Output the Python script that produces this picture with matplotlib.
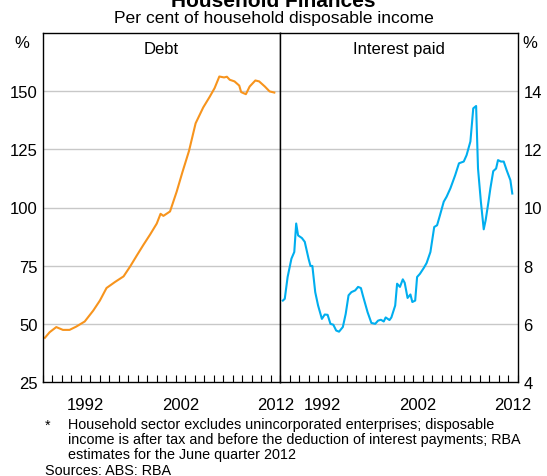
import numpy as np
import matplotlib
matplotlib.use("Agg")
import matplotlib.pyplot as plt
from matplotlib.ticker import MultipleLocator, FixedLocator

plt.rcParams['font.family'] = ['Liberation Sans', 'DejaVu Sans']

# debt, per cent of household disposable income
debt_year = [1988.2, 1988.7, 1989.4, 1990.1, 1990.8, 1991.5, 1992.4, 1993.3, 1994.0, 1994.7,
             1995.6, 1996.5, 1997.2, 1997.9, 1998.6, 1999.3, 2000.0, 2000.4, 2000.7, 2001.4,
             2002.1, 2002.7, 2003.4, 2004.1, 2004.9, 2005.6, 2006.1, 2006.6, 2007.1, 2007.4,
             2007.7, 2008.2, 2008.7, 2008.9, 2009.4, 2009.8, 2010.4, 2010.8, 2011.4, 2011.9,
             2012.4]
debt = [44.0, 46.4, 48.6, 47.4, 47.4, 48.8, 51.0, 55.7, 60.0, 65.4,
        68.0, 70.4, 74.7, 79.4, 84.0, 88.4, 93.1, 97.3, 96.4, 98.3,
        106.8, 115.1, 124.3, 136.2, 143.0, 147.7, 151.3, 156.3, 155.9, 156.2,
        154.9, 154.2, 152.4, 149.6, 148.7, 152.0, 154.6, 154.2, 152.0, 149.9,
        149.4]

# interest paid
int_year = [1988.3, 1988.5, 1988.8, 1989.2, 1989.5, 1989.7, 1989.9, 1990.3, 1990.6, 1991.0,
            1991.2, 1991.4, 1991.7, 1992.0, 1992.4, 1992.7, 1993.0, 1993.3, 1993.6, 1993.9,
            1994.2, 1994.6, 1994.9, 1995.2, 1995.5, 1995.9, 1996.2, 1996.5, 1996.7, 1997.2,
            1997.6, 1998.0, 1998.3, 1998.6, 1998.9, 1999.1, 1999.5, 1999.7, 2000.1, 2000.3,
            2000.6, 2000.9, 2001.1, 2001.4, 2001.7, 2001.9, 2002.2, 2002.4, 2002.7, 2003.1,
            2003.4, 2003.8, 2004.2, 2004.5, 2004.8, 2005.2, 2005.5, 2005.9, 2006.4, 2006.8,
            2007.3, 2007.6, 2008.0, 2008.3, 2008.6, 2008.8, 2009.1, 2009.4, 2009.6, 2009.9,
            2010.1, 2010.4, 2010.7, 2010.9, 2011.2, 2011.5, 2011.8, 2012.2, 2012.4]
interest = [6.80, 6.86, 7.61, 8.24, 8.47, 9.45, 9.04, 8.95, 8.82, 8.24,
            7.99, 7.99, 7.09, 6.63, 6.17, 6.32, 6.31, 6.00, 5.97, 5.77,
            5.73, 5.89, 6.34, 6.98, 7.09, 7.15, 7.27, 7.23, 6.98, 6.40,
            6.03, 6.00, 6.11, 6.14, 6.08, 6.22, 6.13, 6.22, 6.63, 7.38,
            7.27, 7.53, 7.41, 6.89, 7.01, 6.75, 6.80, 7.61, 7.72, 7.92,
            8.09, 8.47, 9.33, 9.39, 9.73, 10.20, 10.37, 10.66, 11.11, 11.52,
            11.58, 11.80, 12.27, 13.41, 13.49, 11.34, 10.20, 9.25, 9.56, 10.20,
            10.66, 11.25, 11.34, 11.63, 11.58, 11.58, 11.29, 10.94, 10.48]

year_labels = [1992, 2002, 2012]
orange = '#F7941D'
blue = '#00AEEF'

W, H = 547, 477
fig = plt.figure(figsize=(W / 100, H / 100), dpi=100)
bot = 1 - 383 / H
hgt = (383 - 34) / H
ax1 = fig.add_axes([43 / W, bot, 237 / W, hgt])
ax2 = fig.add_axes([280 / W, bot, 238 / W, hgt])

ax1.plot(debt_year, debt, color=orange, lw=1.5)
ax2.plot(int_year, interest, color=blue, lw=1.5)

ax1.set_ylim(25, 175)
ax1.set_yticks([25, 50, 75, 100, 125, 150])
ax2.set_ylim(4, 16)
ax2.set_yticks([4, 6, 8, 10, 12, 14])
ax2.yaxis.tick_right()

for ax, name in [(ax1, 'Debt'), (ax2, 'Interest paid')]:
    ax.set_xlim(1988, 2013)
    ax.xaxis.set_minor_locator(MultipleLocator(1))
    ax.xaxis.set_major_locator(FixedLocator([y + 0.5 for y in year_labels]))
    ax.set_xticklabels([str(y) for y in year_labels])
    ax.tick_params(axis='x', which='major', length=0, labelsize=12, pad=11)
    ax.tick_params(axis='x', which='minor', length=5, direction='in', width=0.8)
    ax.tick_params(axis='y', length=0, labelsize=12, pad=4)
    ax.grid(axis='y', color='#c8c8c8', lw=1)
    ax.set_axisbelow(True)
    for s in ax.spines.values():
        s.set_linewidth(1)
    ax.text(0.5, 0.978, name, transform=ax.transAxes, ha='center', va='top', fontsize=12)

# hide the top gridline that sits on the frame
ax1.get_ygridlines()[0].set_visible(False)
ax2.get_ygridlines()[0].set_visible(False)

fig.text(0.5, 1 - 7 / H, 'Household Finances', ha='center', va='baseline',
         fontsize=15, fontweight='bold')
fig.text(0.5, 1 - 18.5 / H, 'Per cent of household disposable income', ha='center',
         va='center', fontsize=12.6)
fig.text(22 / W, 1 - 43 / H, '%', ha='center', va='center', fontsize=12)
fig.text(530 / W, 1 - 43 / H, '%', ha='center', va='center', fontsize=12)

fig.text(45 / W, 1 - 419 / H, '*', ha='left', va='top', fontsize=10.2)
fig.text(68 / W, 1 - 418.5 / H,
         'Household sector excludes unincorporated enterprises; disposable\n'
         'income is after tax and before the deduction of interest payments; RBA\n'
         'estimates for the June quarter 2012',
         ha='left', va='top', fontsize=10.4, linespacing=1.06)
fig.text(45 / W, 1 - 471 / H, 'Sources: ABS: RBA', ha='left', va='center', fontsize=10.4)

fig.savefig('out.png', dpi=100)
